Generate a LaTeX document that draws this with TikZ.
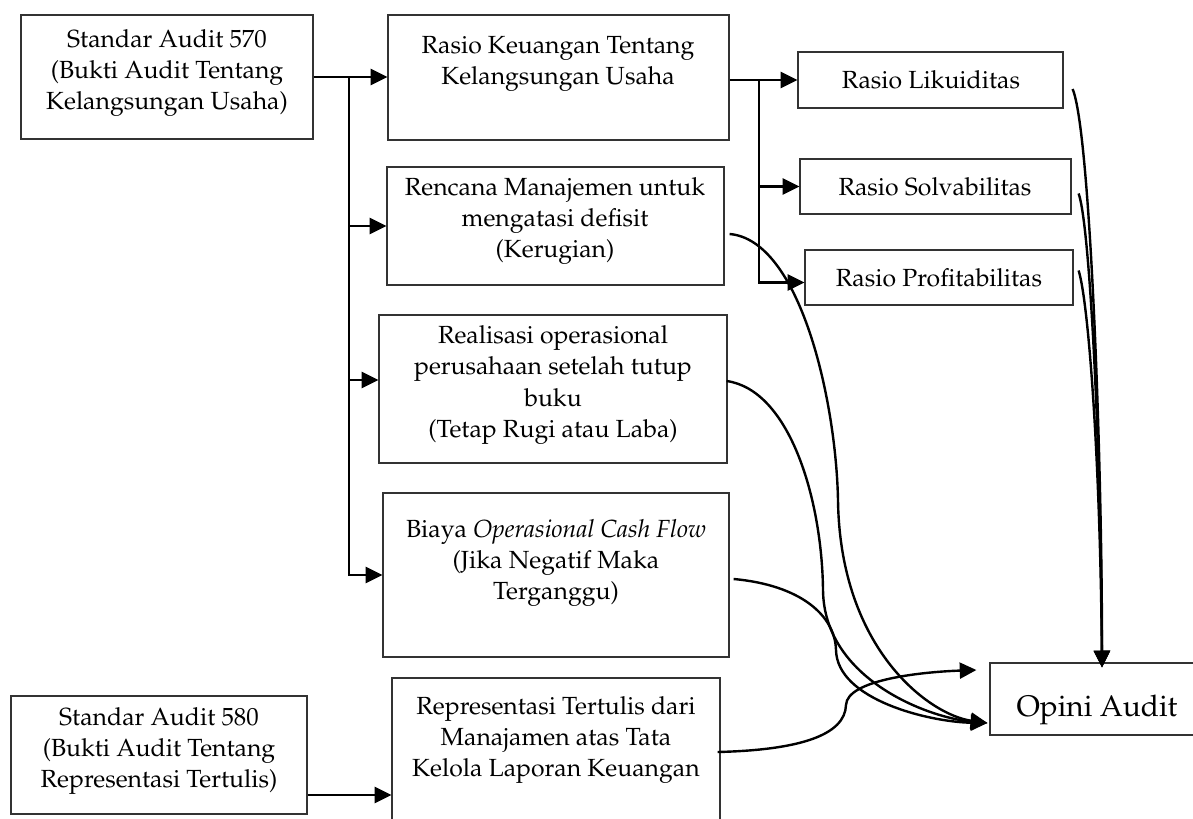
\documentclass[tikz,border=0pt]{standalone}
\usepackage[T1]{fontenc}
\usepackage{mathpazo}
\usetikzlibrary{arrows.meta,calc,fit}
\begin{document}
\begin{tikzpicture}[x=0.75pt,y=-0.75pt,
  box/.style={draw=black!80, line width=0.9pt, inner sep=0pt},
  txt/.style={align=center, font=\fontsize{18.6}{23.3}\selectfont, inner sep=0pt},
  bigtxt/.style={align=center, font=\fontsize{22.3}{26}\selectfont, inner sep=0pt},
  conn/.style={line width=1.8pt, black},
  arr/.style={conn, -{Triangle[length=12.5pt,width=12pt]}}]
\useasboundingbox (0,0) rectangle (1193,818);
% boxes
\node[box, fit={(21,15) (313,139)}] (A) {};
\node[box, fit={(388,15) (729,140)}] (B) {};
\node[box, fit={(387,167) (724,285)}] (C) {};
\node[box, fit={(379,315) (727,463)}] (D) {};
\node[box, fit={(383,493) (729,657)}] (E) {};
\node[box, fit={(11,696) (307,814)}] (F) {};
\node[box, fit={(392,678) (720,840)}] (G) {};
\node[box, fit={(798,52) (1063,108)}] (L) {};
\node[box, fit={(800,159) (1071,214)}] (S) {};
\node[box, fit={(805,250) (1073,305)}] (P) {};
\node[box, fit={(990,663) (1210,735)}] (O) {};
% texts
\node[txt] (tA) at (167,73) {Standar Audit 570\\(Bukti Audit Tentang\\Kelangsungan Usaha)};
\node[txt] (tB) at (558,64) {Rasio Keuangan Tentang\\Kelangsungan Usaha};
\node[txt] (tC) at (555,221) {Rencana Manajemen untuk\\mengatasi defisit\\(Kerugian)};
\node[txt] (tD) at (553,385) {Realisasi operasional\\perusahaan setelah tutup\\buku\\(Tetap Rugi atau Laba)};
\node[txt] (tE) at (556,563) {Biaya \textit{Operasional Cash Flow}\\(Jika Negatif Maka\\Terganggu)};
\node[txt] (tF) at (159,751) {Standar Audit 580\\(Bukti Audit Tentang\\Representasi Tertulis)};
\node[txt] (tG) at (556,740) {Representasi Tertulis dari\\Manajamen atas Tata\\Kelola Laporan Keuangan};
\node[txt] (tL) at (931,80) {Rasio Likuiditas};
\node[txt] (tS) at (935,187) {Rasio Solvabilitas};
\node[txt] (tP) at (939,278) {Rasio Profitabilitas};
\node[bigtxt] (tO) at (1097,710) {Opini Audit};
% first trunk
\draw[arr] (A.east) -- (A.east -| B.west);
\coordinate (t1) at ($(A.east)!0.48!(A.east -| B.west)$);
\draw[arr] (t1 |- C.west) -- (C.west);
\coordinate (dY) at ($(D.west)+(0,-9)$);
\draw[arr] (t1 |- dY) -- (dY);
\draw[arr] (t1) |- (E.west);
% second trunk
\draw[arr] (B.east |- L.west) -- (L.west);
\coordinate (t2) at ($(B.east |- L.west)!0.43!(L.west)$);
\draw[arr] (t2 |- S.west) -- (S.west);
\draw[arr] (t2) |- ($(P.west)+(0,5)$);
% F to G
\coordinate (f1) at ($(F.east)+(0,40)$);
\draw[arr] (f1) -- (f1 -| G.west);
% curves to Opini top
\coordinate (oT) at ($(O.north)+(2,5)$);
\draw[arr] ($(L.east)+(9,9)$) .. controls (1090,130) and (1102,450) .. (oT);
\draw[arr] ($(S.east)+(7,7)$) .. controls (1090,225) and (1101,450) .. (oT);
\draw[arr] ($(P.east)+(5,-7)$) .. controls (1088,300) and (1100,450) .. (oT);
% curves to Opini left
\coordinate (oW) at ($(O.west)+(-2,24)$);
\draw[arr] ($(C.east)+(5,8)$) .. controls (800,240) and (836,400) .. (838,500) .. controls (840,650) and (930,715) .. (oW);
\draw[arr] ($(D.east)+(-1,-8)$) .. controls (790,390) and (822,500) .. (823,590) .. controls (824,680) and (930,718) .. (oW);
\draw[arr] ($(E.east)+(4,4)$) .. controls (800,585) and (835,615) .. (836,650) .. controls (837,700) and (930,722) .. (oW);
\draw[arr] ($(G.east)+(-3,-7)$) .. controls (800,750) and (845,735) .. (846,705) .. controls (847,680) and (920,672) .. ($(O.west)+(-13,-29)$);
\end{tikzpicture}
\end{document}
